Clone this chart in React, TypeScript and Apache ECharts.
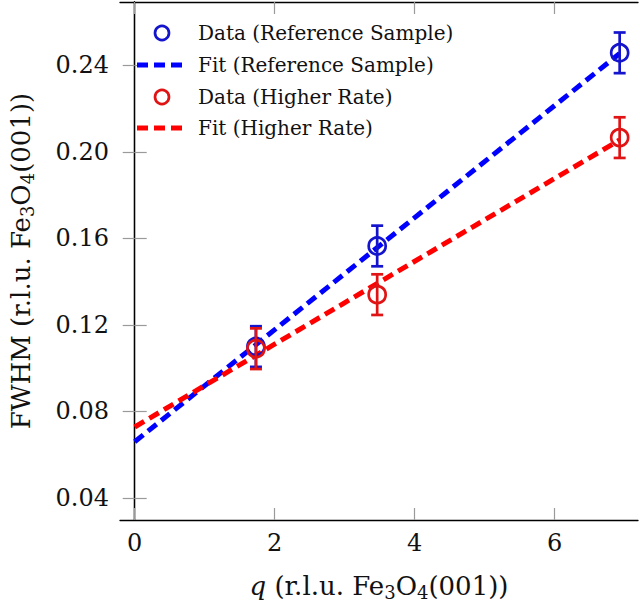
import React, { useEffect, useRef } from "react";
import * as echarts from "echarts";

// ---- data ----
const qValues = [1.732, 3.464, 6.928];
const refValues = [0.110, 0.1565, 0.2458];
const refErrors = [0.0094, 0.0094, 0.0094];
const highValues = [0.109, 0.134, 0.2066];
const highErrors = [0.0094, 0.0094, 0.0094];
const fitQ = [0, 6.928];
const refFit = [0.066, 0.2455];
const highFit = [0.0728, 0.2055];
const xTicks = [0, 2, 4, 6];
const yTicks = [0.04, 0.08, 0.12, 0.16, 0.2, 0.24];
const legendNames = [
  "Data (Reference Sample)",
  "Fit (Reference Sample)",
  "Data (Higher Rate)",
  "Fit (Higher Rate)",
];

const BLUE = "#0000ff";
const RED = "#ff0000";
const BLUE_MK = "#1414cc";
const RED_MK = "#e01414";
const FONT = "DejaVu Serif";
const TXT = "#111";

function errorBars(color: string) {
  return (params: any, api: any) => {
    const x = api.value(0);
    const y = api.value(1);
    const e = api.value(2);
    const top = api.coord([x, y + e]);
    const bot = api.coord([x, y - e]);
    const hw = 6;
    const style = { stroke: color, lineWidth: 2.7 };
    return {
      type: "group",
      children: [
        { type: "line", shape: { x1: top[0], y1: top[1], x2: bot[0], y2: bot[1] }, style },
        { type: "line", shape: { x1: top[0] - hw, y1: top[1], x2: top[0] + hw, y2: top[1] }, style },
        { type: "line", shape: { x1: bot[0] - hw, y1: bot[1], x2: bot[0] + hw, y2: bot[1] }, style },
      ],
    };
  };
}

function legendGraphics() {
  const rows = [33, 65, 97, 128];
  const kinds = ["circle", "dash", "circle", "dash"];
  const colors = [BLUE_MK, BLUE, RED_MK, RED];
  const out: any[] = [];
  rows.forEach((y, i) => {
    if (kinds[i] === "circle") {
      out.push({
        type: "circle",
        shape: { cx: 162, cy: y, r: 7 },
        style: { fill: "none", stroke: colors[i], lineWidth: 2.7 },
        z: 100,
      });
    } else {
      [137, 154, 171].forEach((x0) => {
        out.push({
          type: "rect",
          shape: { x: x0, y: y - 2.5, width: 11, height: 5 },
          style: { fill: colors[i] },
          z: 100,
        });
      });
    }
    out.push({
      type: "text",
      x: 198,
      y: y,
      style: {
        text: legendNames[i],
        fontFamily: FONT,
        fontSize: 20,
        fill: TXT,
        verticalAlign: "middle",
        align: "left",
      },
      z: 100,
    });
  });
  return out;
}

export default function App() {
  const ref = useRef<HTMLDivElement>(null);
  useEffect(() => {
    if (!ref.current) return;
    const chart = echarts.init(ref.current, null, { renderer: "svg" });
    const tickStyle = { show: true, inside: true, length: 12, lineStyle: { color: "#9a9a9a", width: 1.2 } };
    const axisLineStyle = { show: true, lineStyle: { color: "#000", width: 1.3 } };
    const subRich = {
      sub: { fontFamily: FONT, fontSize: 18, verticalAlign: "bottom", padding: [12, 0, 0, 0], color: TXT },
      i: { fontFamily: FONT, fontSize: 26, fontStyle: "italic", color: TXT },
    };
    const xMin = -0.21, xMax = 7.19, yMin = 0.0298, yMax = 0.2693;
    const option: any = {
      animation: false,
      backgroundColor: "#fff",
      grid: { left: 115, right: 2, top: 2, bottom: 81, containLabel: false },
      graphic: legendGraphics(),
      xAxis: [
        {
          type: "value",
          min: xMin,
          max: xMax,
          position: "bottom",
          name: "{i|q} (r.l.u. Fe{sub|3}O{sub|4}(001))",
          nameLocation: "middle",
          nameGap: 51,
          nameTextStyle: { fontFamily: FONT, fontSize: 26, color: TXT, rich: subRich },
          axisLine: axisLineStyle,
          axisTick: { ...tickStyle, customValues: xTicks },
          axisLabel: { customValues: xTicks, fontFamily: FONT, fontSize: 24, color: TXT, margin: 11 },
          splitLine: { show: false },
        },
        {
          type: "value",
          min: xMin,
          max: xMax,
          position: "top",
          axisLine: axisLineStyle,
          axisTick: { ...tickStyle, customValues: xTicks },
          axisLabel: { show: false },
          splitLine: { show: false },
        },
      ],
      yAxis: [
        {
          type: "value",
          min: yMin,
          max: yMax,
          position: "left",
          name: "FWHM (r.l.u. Fe{sub|3}O{sub|4}(001))",
          nameLocation: "middle",
          nameGap: 84,
          nameTextStyle: { fontFamily: FONT, fontSize: 26, color: TXT, rich: subRich },
          axisLine: axisLineStyle,
          axisTick: { ...tickStyle, customValues: yTicks },
          axisLabel: {
            customValues: yTicks,
            formatter: (v: number) => v.toFixed(2),
            fontFamily: FONT,
            fontSize: 24,
            color: TXT,
            margin: 11,
          },
          splitLine: { show: false },
        },
        {
          type: "value",
          min: yMin,
          max: yMax,
          position: "right",
          axisLine: axisLineStyle,
          axisTick: { ...tickStyle, customValues: yTicks },
          axisLabel: { show: false },
          splitLine: { show: false },
        },
      ],
      series: [
        {
          name: "Fit (Reference Sample)",
          type: "line",
          data: fitQ.map((q, i) => [q, refFit[i]]),
          symbol: "none",
          lineStyle: { color: BLUE, width: 5, type: [11, 6], cap: "butt" },
          z: 2,
        },
        {
          name: "Fit (Higher Rate)",
          type: "line",
          data: fitQ.map((q, i) => [q, highFit[i]]),
          symbol: "none",
          lineStyle: { color: RED, width: 5, type: [11, 6], cap: "butt" },
          z: 3,
        },
        {
          name: "Data (Reference Sample)",
          type: "scatter",
          data: qValues.map((q, i) => [q, refValues[i]]),
          symbol: "circle",
          symbolSize: 17,
          itemStyle: { color: "rgba(0,0,0,0)", borderColor: BLUE_MK, borderWidth: 2.7, opacity: 1 },
          z: 4,
        },
        {
          type: "custom",
          name: "refErr",
          renderItem: errorBars(BLUE_MK),
          data: qValues.map((q, i) => [q, refValues[i], refErrors[i]]),
          encode: { x: 0, y: 1 },
          z: 5,
        },
        {
          name: "Data (Higher Rate)",
          type: "scatter",
          data: qValues.map((q, i) => [q, highValues[i]]),
          symbol: "circle",
          symbolSize: 17,
          itemStyle: { color: "rgba(0,0,0,0)", borderColor: RED_MK, borderWidth: 2.7, opacity: 1 },
          z: 6,
        },
        {
          type: "custom",
          name: "highErr",
          renderItem: errorBars(RED_MK),
          data: qValues.map((q, i) => [q, highValues[i], highErrors[i]]),
          encode: { x: 0, y: 1 },
          z: 7,
        },
      ],
    };
    chart.setOption(option);
    return () => chart.dispose();
  }, []);
  return <div ref={ref} style={{ width: 640, height: 606, position: "absolute", left: 0, top: 0 }} />;
}
